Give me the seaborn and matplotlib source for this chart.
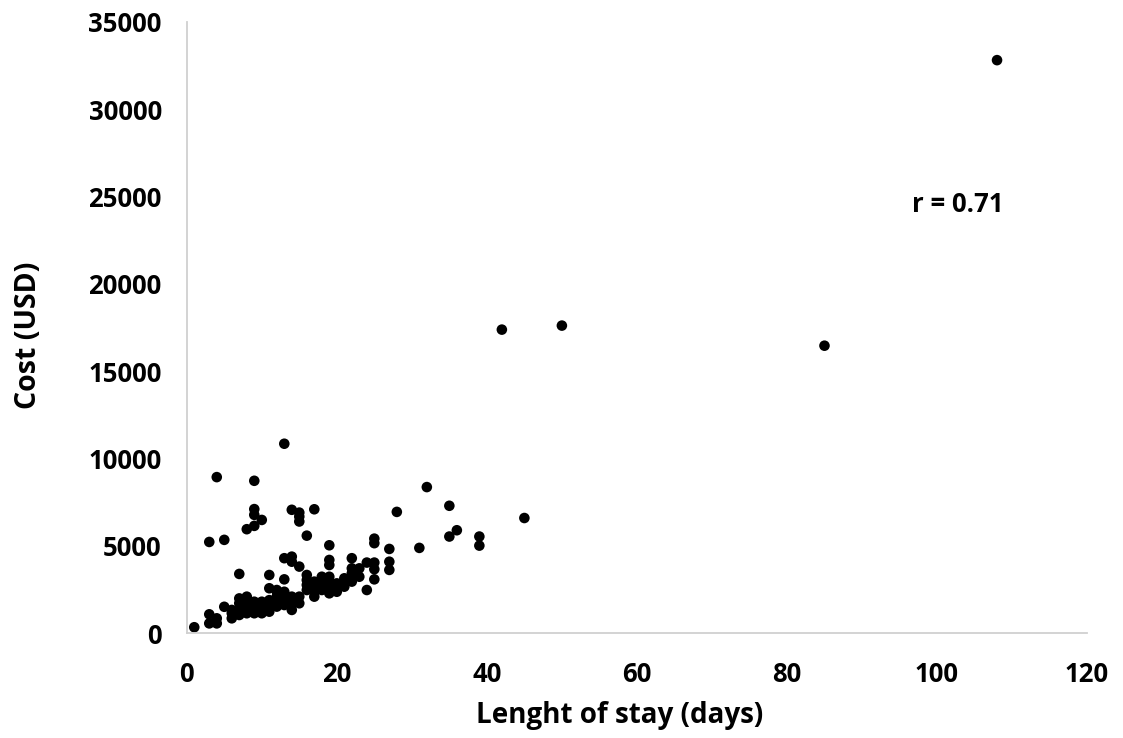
import pandas as pd
import seaborn as sns
import matplotlib
matplotlib.use("Agg")
import matplotlib.pyplot as plt

## data (length of stay in days, cost in USD)
stay_days = [
    1,
    3, 3, 3,
    4, 4, 4,
    5, 5,
    6, 6, 6,
    7, 7, 7, 7, 7,
    8, 8, 8, 8, 8,
    9, 9, 9, 9, 9, 9, 9,
    10, 10, 10, 10,
    11, 11, 11, 11, 11,
    12, 12, 12, 12, 12, 12,
    13, 13, 13, 13, 13, 13,
    14, 14, 14, 14, 14, 14,
    15, 15, 15, 15, 15, 15,
    16, 16, 16, 16, 16,
    17, 17, 17, 17, 17,
    18, 18, 18,
    19, 19, 19, 19, 19, 19, 19,
    20, 20,
    21, 21,
    22, 22, 22, 22,
    23, 23,
    24, 24,
    25, 25, 25, 25, 25,
    27, 27, 27,
    28, 31, 32,
    35, 35, 36,
    39, 39,
    42, 45, 50, 85, 108,
]
cost_usd = [
    350,
    570, 1090, 5230,
    570, 860, 8940,
    1520, 5350,
    860, 1150, 1340,
    1050, 1340, 1720, 2000, 3400,
    1150, 1430, 1810, 2100, 5960,
    1150, 1530, 1810, 6150, 6780, 7110, 8730,
    1150, 1430, 1810, 6490,
    1240, 1530, 1900, 2580, 3340,
    1530, 1620, 1900, 2100, 2390, 2480,
    1620, 2000, 2380, 3090, 4300, 10850,
    1340, 1720, 2100, 4100, 4390, 7070,
    1720, 2100, 3820, 6400, 6680, 6910,
    2480, 2770, 3050, 3340, 5590,
    2100, 2380, 2670, 2960, 7100,
    2480, 2860, 3240,
    2290, 2580, 2960, 3240, 3910, 4200, 5040,
    2380, 2860,
    2670, 3150,
    2960, 3440, 3720, 4300,
    3240, 3720,
    2480, 4050,
    3090, 3670, 4050, 5160, 5420,
    3630, 4100, 4830,
    6950, 4890, 8370,
    5540, 7300, 5900,
    5020, 5540,
    17380, 6600, 17610, 16460, 32800,
]
r_text = "r = 0.71"

df = pd.DataFrame({"stay": stay_days, "cost": cost_usd})

sns.set_style("white")
plt.rcParams['font.family'] = ['Open Sans', 'DejaVu Sans']
plt.rcParams['text.color'] = 'black'
plt.rcParams['axes.labelcolor'] = 'black'
plt.rcParams['xtick.color'] = 'black'
plt.rcParams['ytick.color'] = 'black'

fig = plt.figure(figsize=(11.23, 7.38), dpi=100)
ax = fig.add_axes([0.1663, 0.1418, 0.8017, 0.8288])

sns.scatterplot(data=df, x="stay", y="cost", color="black", s=58,
                edgecolor="none", ax=ax)

ax.set_xlim(0, 120)
ax.set_ylim(0, 35000)
ax.set_xticks(range(0, 121, 20))
ax.set_yticks(range(0, 35001, 5000))

for side in ["top", "right"]:
    ax.spines[side].set_visible(False)
for side in ["left", "bottom"]:
    ax.spines[side].set_color("#d0d0d0")
    ax.spines[side].set_linewidth(1.3)

ax.tick_params(axis="both", length=0, labelsize=18.5, labelcolor="black")
ax.tick_params(axis="y", pad=18)
ax.tick_params(axis="x", pad=20)
for lbl in ax.get_xticklabels() + ax.get_yticklabels():
    lbl.set_fontweight("bold")

ax.set_xlabel("Lenght of stay (days)", fontsize=20, fontweight="bold")
ax.set_ylabel("Cost (USD)", fontsize=20.5, fontweight="bold")
ax.xaxis.label.set_va("center")
ax.yaxis.label.set_va("center")
ax.xaxis.set_label_coords(0.481, -0.135)
ax.yaxis.set_label_coords(-0.176, 0.487)

ax.text(102.8, 24540, r_text, ha="center", va="center",
        fontsize=18.5, fontweight="bold")

plt.savefig("out.png", dpi=100)
